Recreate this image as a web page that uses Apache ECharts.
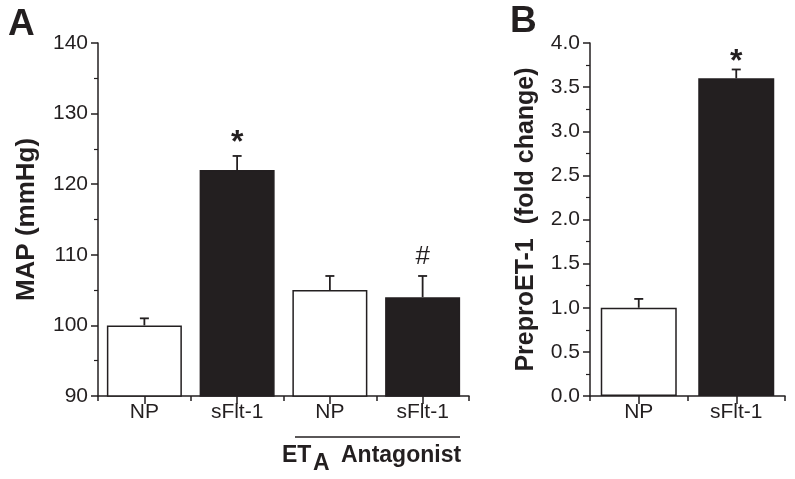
<!DOCTYPE html>
<html>
<head>
<meta charset="utf-8">
<script src="https://cdn.jsdelivr.net/npm/echarts@6/dist/echarts.min.js"></script>
<style>
html,body{margin:0;padding:0;background:#fff;}
#chart{width:795px;height:479px;}
</style>
</head>
<body>
<div id="chart"></div>
<script>
// ---- data ----
const mapCategories = ['NP', 'sFlt-1', 'NP', 'sFlt-1'];
const mapValues = [100, 122, 105, 104];
const mapErrors = [1, 2, 2, 3];
const mapMarks = ['', '*', '', '#'];
const mapFilled = [false, true, false, true];

const preproCategories = ['NP', 'sFlt-1'];
const preproValues = [1.0, 3.6];
const preproErrors = [0.1, 0.1];
const preproMarks = ['', '*'];
const preproFilled = [false, true];

const mapTicks = { min: 90, max: 140, interval: 10 };
const preproTicks = { min: 0, max: 4, interval: 0.5 };

// ---- styles ----
const INK = '#231f20';
const FONT = 'Liberation Sans, Arial, sans-serif';

const chart = echarts.init(document.getElementById('chart'), null, { renderer: 'canvas' });

function barData(values, filled) {
  return values.map((v, i) => ({
    value: v,
    itemStyle: filled[i]
      ? { color: INK, borderColor: INK, borderWidth: 1.5 }
      : { color: '#ffffff', borderColor: INK, borderWidth: 1.5 }
  }));
}

function errData(values, errors) {
  return values.map((v, i) => [i, v, errors[i]]);
}

function makeErrRender(marks, starShift) {
  return function (params, api) {
    const x = api.value(0);
    const v = api.value(1);
    const e = api.value(2);
    const mark = marks[x];
    const p0 = api.coord([x, v]);
    const p1 = api.coord([x, v + e]);
    const cap = 4.5;
    const st = { stroke: INK, lineWidth: 1.8 };
    const children = [
      { type: 'line', shape: { x1: p0[0], y1: p0[1], x2: p1[0], y2: p1[1] }, style: st },
      { type: 'line', shape: { x1: p1[0] - cap, y1: p1[1], x2: p1[0] + cap, y2: p1[1] }, style: st }
    ];
    if (mark) {
      const isStar = mark === '*';
      children.push({
        type: 'text',
        style: {
          text: mark,
          x: p1[0],
          y: p1[1] + (isStar ? starShift : -6),
          align: 'center',
          verticalAlign: 'bottom',
          fill: INK,
          font: (isStar ? 'bold 32px ' : '26px ') + FONT
        }
      });
    }
    return { type: 'group', children };
  };
}

function yAxisCfg(gridIndex, t, name, nameGap, nameSize, fmt) {
  return {
    type: 'value', gridIndex, min: t.min, max: t.max, interval: t.interval,
    name, nameLocation: 'middle', nameGap, nameRotate: 90,
    nameTextStyle: { fontFamily: FONT, fontWeight: 'bold', fontSize: nameSize, color: INK },
    axisLine: { show: true, lineStyle: { color: INK, width: 1.5 } },
    axisTick: { show: true, inside: false, length: 7, lineStyle: { color: INK, width: 1.5 } },
    minorTick: { show: true, splitNumber: 2, length: 4, lineStyle: { color: INK, width: 1.2 } },
    splitLine: { show: false },
    axisLabel: { fontFamily: FONT, fontSize: 21, color: INK, margin: 10, formatter: fmt }
  };
}

function xAxesCfg(gridIndex, cats) {
  return [
    {
      type: 'category', gridIndex, data: cats,
      axisLine: { show: true, lineStyle: { color: INK, width: 1.5 } },
      axisTick: { show: true, alignWithLabel: false, length: 5, lineStyle: { color: INK, width: 1.5 } },
      axisLabel: { fontFamily: FONT, fontSize: 21, color: INK, margin: 6 }
    },
    {
      type: 'category', gridIndex, data: cats, position: 'bottom',
      axisLine: { show: false },
      axisTick: { show: true, alignWithLabel: true, length: 8, lineStyle: { color: INK, width: 1.5 } },
      axisLabel: { show: false }
    }
  ];
}

const option = {
  animation: false,
  backgroundColor: '#ffffff',
  grid: [
    { left: 98, top: 43, width: 371, height: 353 },
    { left: 590, top: 43, width: 195, height: 353 }
  ],
  xAxis: [...xAxesCfg(0, mapCategories), ...xAxesCfg(1, preproCategories)],
  yAxis: [
    yAxisCfg(0, mapTicks, 'MAP (mmHg)', 58, 26, v => String(v)),
    yAxisCfg(1, preproTicks, 'PreproET-1  (fold change)', 51, 25, v => v.toFixed(1))
  ],
  series: [
    { type: 'bar', xAxisIndex: 0, yAxisIndex: 0, barWidth: 75, data: barData(mapValues, mapFilled), z: 2 },
    { type: 'custom', xAxisIndex: 0, yAxisIndex: 0, renderItem: makeErrRender(mapMarks, 3), data: errData(mapValues, mapErrors), z: 3 },
    { type: 'bar', xAxisIndex: 2, yAxisIndex: 1, barWidth: 76, data: barData(preproValues, preproFilled), z: 2 },
    { type: 'custom', xAxisIndex: 2, yAxisIndex: 1, renderItem: makeErrRender(preproMarks, 9), data: errData(preproValues, preproErrors), z: 3 }
  ],
  graphic: [
    { type: 'text', left: 8, top: 6, style: { text: 'A', font: 'bold 37px ' + FONT, fill: INK } },
    { type: 'text', left: 510, top: 3, style: { text: 'B', font: 'bold 37px ' + FONT, fill: INK } },
    { type: 'line', shape: { x1: 295, y1: 437, x2: 460, y2: 437 }, style: { stroke: INK, lineWidth: 1.5 } },
    { type: 'text', x: 282, y: 456, style: { text: 'ET', font: 'bold 23px ' + FONT, fill: INK, verticalAlign: 'middle' } },
    { type: 'text', x: 313, y: 464, style: { text: 'A', font: 'bold 23px ' + FONT, fill: INK, verticalAlign: 'middle' } },
    { type: 'text', x: 341, y: 456, style: { text: 'Antagonist', font: 'bold 23px ' + FONT, fill: INK, verticalAlign: 'middle' } }
  ]
};

chart.setOption(option);
</script>
</body>
</html>
